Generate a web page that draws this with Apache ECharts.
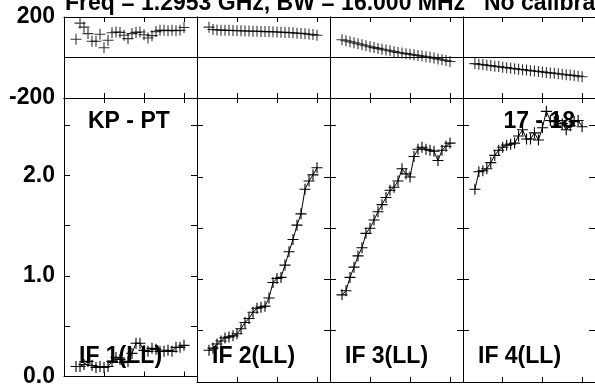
<!DOCTYPE html>
<html><head><meta charset="utf-8">
<script src="https://cdn.jsdelivr.net/npm/echarts@6/dist/echarts.min.js"></script>
<style>html,body{margin:0;padding:0;background:#fff}#c{width:595px;height:388px}</style>
</head><body><div id="c"></div><script>
// ---- data ----
const channels = [3,4,5,6,7,8,9,10,11,12,13,14,15,16,17,18,19,20,21,22,23,24,25,26,27,28,29,30];
const ampIF1 = [0.10,0.10,0.12,0.15,0.11,0.09,0.10,0.09,0.10,0.15,0.19,0.17,0.14,0.15,0.23,0.33,0.33,0.26,0.25,0.28,0.27,0.25,0.25,0.26,0.25,0.29,0.29,0.31];
const ampIF2 = [0.31,0.33,0.37,0.40,0.43,0.44,0.45,0.47,0.52,0.58,0.62,0.68,0.72,0.73,0.74,0.82,0.97,1.01,1.02,1.14,1.27,1.39,1.53,1.64,1.88,1.96,2.02,2.09];
const ampIF3 = [0.85,0.89,1.02,1.12,1.23,1.31,1.45,1.50,1.58,1.66,1.73,1.80,1.87,1.90,1.96,2.08,2.03,2.00,2.20,2.27,2.29,2.27,2.26,2.25,2.16,2.26,2.30,2.33];
const ampIF4 = [1.88,2.05,2.06,2.08,2.14,2.21,2.26,2.29,2.31,2.32,2.33,2.40,2.46,2.37,2.37,2.43,2.36,2.48,2.64,2.55,2.54,2.55,2.52,2.46,2.50,2.54,2.55,2.49];
const phIF1 = [90,170,150,118,80,80,115,48,85,122,126,124,110,93,118,124,126,112,96,108,128,134,134,132,134,132,134,148];
const phIF2 = [150,138,136,135,134,134,133,132,132,131,131,130,130,129,128,128,127,126,125,124,123,122,120,119,117,115,113,110];
const phIF3 = [88,83,78,73,68,63,58,53,49,45,41,37,33,29,25,22,19,16,13,10,7,4,1,-3,-7,-11,-15,-20];
const phIF4 = [-30,-33,-35,-38,-40,-43,-45,-48,-50,-53,-55,-58,-60,-62,-65,-67,-69,-71,-74,-76,-78,-80,-83,-85,-87,-89,-92,-95];
const titleText = 'Freq = 1.2953 GHz, BW = 16.000 MHz';
const calText = 'No calibration';
const baselineLabel = 'KP - PT';
const stokesLabel = '17 - 18';
const ifLabels = ['IF 1(LL)','IF 2(LL)','IF 3(LL)','IF 4(LL)'];
const phaseTickLabels = {'200':'200','-200':'-200'};
const ampTickLabels = ['0.0','1.0','2.0'];

// ---- layout ----
const amps = [ampIF1, ampIF2, ampIF3, ampIF4];
const phases = [phIF1, phIF2, phIF3, phIF4];
const FONT = '"Liberation Sans", Arial, sans-serif';
const panelLeft = [64,197,330,463];
const PW = 133;
const cross = 'path://M4.5,0H5.5V4.5H10V5.5H5.5V10H4.5V5.5H0V4.5H4.5Z';
const grids = [], xAxes = [], yAxes = [], series = [];
const lineS = {color:'#000', width:1};
const labelStyle = {color:'#000', fontSize:23, fontWeight:'bold', fontFamily:FONT, margin:9};

for (let g = 0; g < 8; g++) {
  const isPhase = g < 4;
  const p = g % 4;
  grids.push(isPhase ? {left:panelLeft[p], width:PW, top:17, height:81}
                     : {left:panelLeft[p], width:PW, top:98, height:284});
  ['bottom','top'].forEach(pos => xAxes.push({
    gridIndex:g, type:'value', min:0, max:33.25, interval:10, position:pos,
    axisLine:{show:true, onZero:false, lineStyle:lineS},
    axisTick:{show:true, inside:true, length:5, lineStyle:lineS},
    axisLabel:{show:false}, splitLine:{show:false}
  }));
  ['left','right'].forEach(pos => {
    const showLab = (pos === 'left' && p === 0);
    if (isPhase) {
      yAxes.push({
        gridIndex:g, type:'value', min:-200, max:200, interval:200, position:pos,
        axisLine:{show:true, onZero:false, lineStyle:lineS},
        axisTick:{show:false},
        splitLine:{show:pos==='left', lineStyle:lineS},
        axisLabel:Object.assign({show:showLab, showMinLabel:true, showMaxLabel:true,
          formatter: v => phaseTickLabels[String(Math.round(v))] || ''}, labelStyle)
      });
    } else {
      yAxes.push({
        gridIndex:g, type:'value', min:0, max:2.77, interval:0.5, position:pos,
        axisLine:{show:true, onZero:false, lineStyle:lineS},
        axisTick:{show:true, inside:true, length:6, lineStyle:lineS},
        splitLine:{show:false},
        axisLabel:Object.assign({show:showLab, showMinLabel:true, showMaxLabel:false,
          formatter: v => (Math.abs(v - Math.round(v)) < 1e-6 && ampTickLabels[Math.round(v)]) || ''}, labelStyle)
      });
    }
  });
  const data = channels.map((c,i) => [c, isPhase ? phases[p][i] : amps[p][i]]);
  series.push({
    type: isPhase ? 'scatter' : 'line',
    xAxisIndex: 2*g, yAxisIndex: 2*g,
    data, symbol: cross, symbolSize: 11, showSymbol:true, showAllSymbol:true,
    itemStyle:{color:'#000'}, lineStyle:{color:'#000', width:1},
    silent:true, animation:false, z:3
  });
}

const textEl = (x, y, text, align) => ({
  type:'text', x, y, z:10, silent:true,
  style:{text, fill:'#000', font:'bold 23px ' + FONT, textAlign:align || 'left', textVerticalAlign:'middle'}
});
const graphic = [
  textEl(65, 4, titleText),
  textEl(484, 4, calText),
  textEl(88, 122, baselineLabel),
  textEl(575, 122, stokesLabel, 'right')
];
ifLabels.forEach((t,i) => graphic.push(textEl(panelLeft[i] + 15, 357, t)));

const chart = echarts.init(document.getElementById('c'), null, {renderer:'canvas'});
chart.setOption({
  animation:false, backgroundColor:'#fff',
  grid:grids, xAxis:xAxes, yAxis:yAxes, series, graphic
});
</script></body></html>
